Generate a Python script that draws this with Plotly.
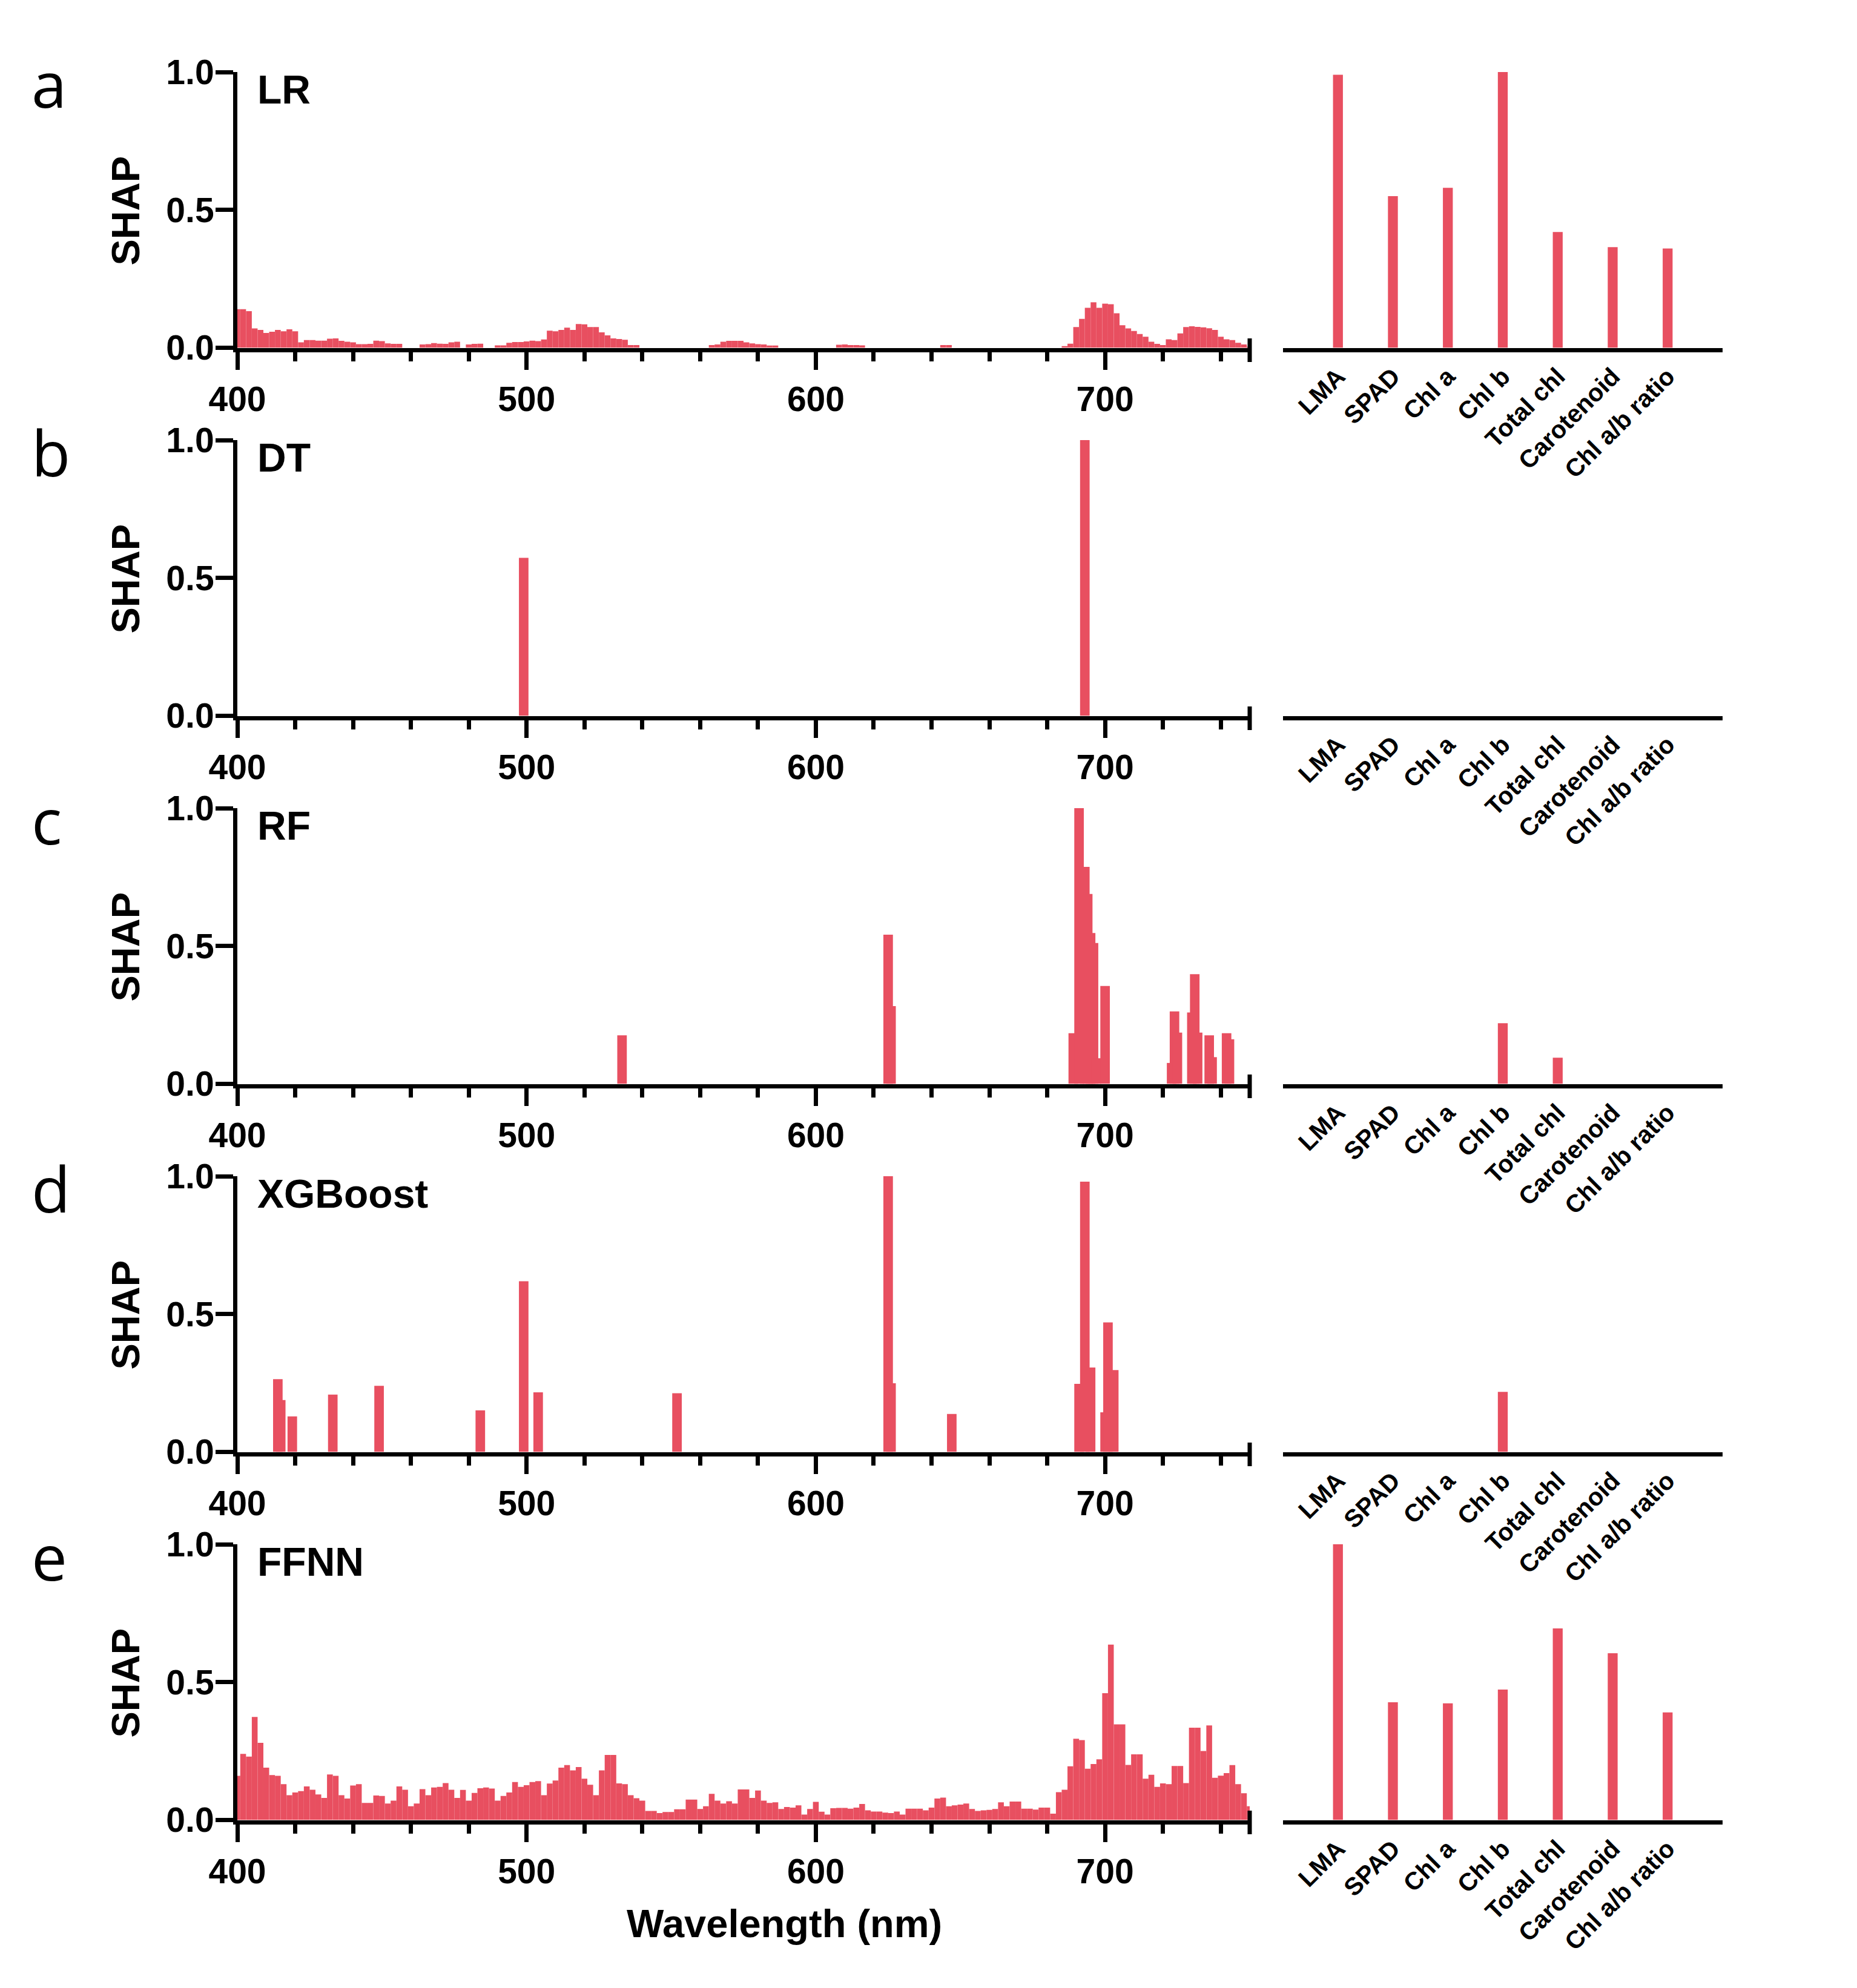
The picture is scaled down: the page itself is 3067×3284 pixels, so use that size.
import plotly.graph_objects as go
from plotly.subplots import make_subplots

# ---------------------------------------------------------------------------
# Data (normalised mean |SHAP|)
# ---------------------------------------------------------------------------
MODELS = ["LR", "DT", "RF", "XGBoost", "FFNN"]
PANEL_LETTERS = ["a", "b", "c", "d", "e"]
TRAITS = ["LMA", "SPAD", "Chl a", "Chl b", "Total chl", "Carotenoid", "Chl a/b ratio"]

# dense spectra, one value every 2 nm from 400 to 750 nm
WL_2NM = list(range(400, 751, 2))

LR_SHAP = [
    0.14, 0.14, 0.133, 0.07, 0.065, 0.054, 0.058, 0.065, 0.06, 0.067,      # 400-418
    0.06, 0.02, 0.028, 0.028, 0.026, 0.026, 0.033, 0.034, 0.025, 0.022,    # 420-438
    0.02, 0.013, 0.013, 0.014, 0.026, 0.024, 0.016, 0.014, 0.014, 0.0,     # 440-458
    0.0, 0.0, 0.012, 0.013, 0.017, 0.015, 0.014, 0.02, 0.022, 0.0,         # 460-478
    0.012, 0.014, 0.015, 0.0, 0.0, 0.009, 0.009, 0.018, 0.021, 0.021,      # 480-498
    0.023, 0.026, 0.024, 0.03, 0.062, 0.06, 0.065, 0.073, 0.065, 0.086,    # 500-518
    0.085, 0.075, 0.075, 0.056, 0.045, 0.034, 0.032, 0.029, 0.01, 0.01,    # 520-538
    0.0, 0.0, 0.0, 0.0, 0.0, 0.0, 0.0, 0.0, 0.0, 0.0,                      # 540-558
    0.0, 0.0, 0.01, 0.012, 0.022, 0.025, 0.025, 0.025, 0.02, 0.016,        # 560-578
    0.013, 0.012, 0.008, 0.008, 0.0, 0.0, 0.0, 0.0, 0.0, 0.0,              # 580-598
    0.0, 0.0, 0.0, 0.0, 0.011, 0.012, 0.01, 0.01, 0.009, 0.0,              # 600-618
    0.0, 0.0, 0.0, 0.0, 0.0, 0.0, 0.0, 0.0, 0.0, 0.0,                      # 620-638
    0.0, 0.0, 0.01, 0.01, 0.0, 0.0, 0.0, 0.0, 0.0, 0.0,                    # 640-658
    0.0, 0.0, 0.0, 0.0, 0.0, 0.0, 0.0, 0.0, 0.0, 0.0,                      # 660-678
    0.0, 0.0, 0.0, 0.006, 0.015, 0.075, 0.105, 0.145, 0.165, 0.145,        # 680-698
    0.16, 0.158, 0.125, 0.082, 0.07, 0.061, 0.05, 0.04, 0.022, 0.014,      # 700-718
    0.01, 0.031, 0.028, 0.052, 0.075, 0.078, 0.076, 0.074, 0.071, 0.065,   # 720-738
    0.04, 0.031, 0.028, 0.018, 0.012, 0.004,                               # 740-750
]

FFNN_SHAP = [
    0.16, 0.24, 0.23, 0.374, 0.28, 0.19, 0.163, 0.16, 0.13, 0.09,          # 400-418
    0.10, 0.105, 0.122, 0.11, 0.093, 0.08, 0.165, 0.16, 0.09, 0.078,       # 420-438
    0.125, 0.13, 0.062, 0.062, 0.089, 0.087, 0.06, 0.07, 0.122, 0.11,      # 440-458
    0.05, 0.06, 0.112, 0.09, 0.118, 0.12, 0.134, 0.11, 0.08, 0.109,        # 460-478
    0.07, 0.098, 0.115, 0.118, 0.114, 0.07, 0.087, 0.1, 0.138, 0.12,       # 480-498
    0.126, 0.138, 0.141, 0.09, 0.132, 0.143, 0.19, 0.199, 0.18, 0.192,     # 500-518
    0.15, 0.128, 0.09, 0.18, 0.236, 0.236, 0.133, 0.13, 0.09, 0.079,       # 520-538
    0.07, 0.033, 0.033, 0.025, 0.029, 0.029, 0.039, 0.039, 0.074, 0.074,   # 540-558
    0.04, 0.05, 0.095, 0.07, 0.06, 0.068, 0.06, 0.111, 0.111, 0.08,        # 560-578
    0.107, 0.07, 0.062, 0.064, 0.04, 0.047, 0.045, 0.053, 0.02, 0.04,      # 580-598
    0.066, 0.03, 0.02, 0.043, 0.044, 0.044, 0.041, 0.045, 0.058, 0.035,    # 600-618
    0.031, 0.031, 0.027, 0.025, 0.031, 0.02, 0.041, 0.041, 0.041, 0.035,   # 620-638
    0.045, 0.078, 0.081, 0.05, 0.053, 0.056, 0.06, 0.04, 0.033, 0.035,     # 640-658
    0.037, 0.04, 0.064, 0.05, 0.067, 0.067, 0.041, 0.041, 0.038, 0.045,    # 660-678
    0.045, 0.023, 0.101, 0.11, 0.195, 0.295, 0.29, 0.186, 0.203, 0.22,     # 680-698
    0.46, 0.636, 0.347, 0.347, 0.2, 0.238, 0.238, 0.15, 0.164, 0.12,       # 700-718
    0.133, 0.13, 0.196, 0.196, 0.134, 0.335, 0.335, 0.25, 0.343, 0.153,   # 720-738
    0.161, 0.17, 0.199, 0.13, 0.097, 0.05,                                 # 740-750
]

# sparse spectra: only the wavelengths (nm) that carry a non-zero value
DT_WL = [499, 693]
DT_SHAP = [0.573, 1.0]

RF_WL = [533, 625, 626, 689, 691, 693, 694, 695, 696, 697, 700,
         723, 724, 725, 730, 731, 732, 736, 737, 742, 743]
RF_SHAP = [0.176, 0.541, 0.282, 0.184, 1.0, 0.787, 0.689, 0.547, 0.511, 0.093, 0.355,
           0.076, 0.263, 0.186, 0.259, 0.398, 0.186, 0.176, 0.097, 0.184, 0.162]

XGB_WL = [414, 415, 419, 433, 449, 484, 499, 504, 552, 625, 626, 647,
          691, 693, 695, 700, 701, 703]
XGB_SHAP = [0.264, 0.188, 0.129, 0.208, 0.24, 0.151, 0.619, 0.216, 0.213, 1.0, 0.249, 0.138,
            0.247, 0.98, 0.306, 0.144, 0.47, 0.297]

# trait-level SHAP, one value per entry of TRAITS
LR_TRAIT = [0.99, 0.55, 0.58, 1.0, 0.42, 0.365, 0.36]
DT_TRAIT = [0, 0, 0, 0, 0, 0, 0]
RF_TRAIT = [0, 0, 0, 0.22, 0.095, 0, 0]
XGB_TRAIT = [0, 0, 0, 0.218, 0, 0, 0]
FFNN_TRAIT = [1.0, 0.427, 0.423, 0.473, 0.695, 0.605, 0.39]

SPECTRA = [
    (WL_2NM, LR_SHAP, "dense"),
    (DT_WL, DT_SHAP, "sparse"),
    (RF_WL, RF_SHAP, "sparse"),
    (XGB_WL, XGB_SHAP, "sparse"),
    (WL_2NM, FFNN_SHAP, "dense"),
]
TRAIT_VALUES = [LR_TRAIT, DT_TRAIT, RF_TRAIT, XGB_TRAIT, FFNN_TRAIT]

# ---------------------------------------------------------------------------
# Styling / geometry (pixels of the 3067 x 3284 page)
# ---------------------------------------------------------------------------
W, H = 3067, 3284
PAGE_OFFSET = 8                        # default <body> margin of the html page
RED = "#E84F60"
BAR_NM = {"dense": 2.0, "sparse": 3.3}
BOLD = "Liberation Sans"
LETTER_FONT = "Open Sans"

TOP0, ZERO0, PITCH = 119, 578, 608     # y=1 and y=0 of panel a, row pitch
LINE_W = 7
TICK_W = 7
L_X0, L_X1 = 392, 2064                 # spectrum plot area
R_X0, R_X1 = 2119, 2845                # trait plot area


def fx(p):
    return (p - PAGE_OFFSET) / W


def fy(p):
    return 1 - (p - PAGE_OFFSET) / H


fig = make_subplots(rows=5, cols=2)

for r in range(5):
    row = r + 1
    top = TOP0 + PITCH * r
    zero = ZERO0 + PITCH * r
    y_dom = [fy(zero - LINE_W / 2), fy(top)]

    wl, vals, kind = SPECTRA[r]
    fig.add_trace(
        go.Bar(x=wl, y=vals, width=BAR_NM[kind], marker=dict(color=RED, line=dict(width=0))),
        row=row, col=1,
    )
    fig.add_trace(
        go.Bar(x=TRAITS, y=TRAIT_VALUES[r], width=0.18, marker=dict(color=RED, line=dict(width=0))),
        row=row, col=2,
    )

    # spectrum axes
    fig.update_xaxes(
        domain=[fx(L_X0), fx(L_X1)], range=[400, 750],
        showline=True, linewidth=LINE_W, linecolor="black",
        ticks="outside", tick0=400, dtick=100, ticklen=29, tickwidth=TICK_W, tickcolor="black",
        minor=dict(tick0=400, dtick=20, ticks="outside", ticklen=15, tickwidth=TICK_W,
                   tickcolor="black", showgrid=False),
        tickfont=dict(family=BOLD, size=57, color="black", weight="bold"),
        showgrid=False, zeroline=False,
        row=row, col=1,
    )
    fig.update_yaxes(
        domain=y_dom, range=[0, 1],
        showline=True, linewidth=LINE_W, linecolor="black",
        tickvals=[0, 0.5, 1], ticktext=["0.0", "0.5", "1.0"],
        ticks="outside", ticklen=29, tickwidth=TICK_W, tickcolor="black",
        ticklabelstandoff=-9,
        tickfont=dict(family=BOLD, size=57, color="black", weight="bold"),
        showgrid=False, zeroline=False,
        row=row, col=1,
    )

    # trait axes
    fig.update_xaxes(
        domain=[fx(R_X0), fx(R_X1)], type="category",
        categoryorder="array", categoryarray=TRAITS, range=[-1, 7],
        showline=True, linewidth=LINE_W, linecolor="black",
        ticks="", tickangle=-45,
        tickfont=dict(family=BOLD, size=41, color="black", weight="bold"),
        showgrid=False, zeroline=False,
        row=row, col=2,
    )
    fig.update_yaxes(domain=y_dom, range=[0, 1], visible=False, row=row, col=2)

    # end mark of the wavelength axis at 750 nm
    fig.add_shape(
        type="line", xref="paper", yref="paper",
        x0=fx(L_X1), x1=fx(L_X1), y0=fy(zero - 19), y1=fy(zero + 20),
        line=dict(color="black", width=TICK_W),
    )

    # panel letter, model name, y title
    fig.add_annotation(
        x=fx(50), y=fy(top + 19), xref="paper", yref="paper",
        xanchor="left", yanchor="middle", showarrow=False,
        text=PANEL_LETTERS[r], font=dict(family=LETTER_FONT, size=105, color="black"),
    )
    fig.add_annotation(
        x=fx(423), y=fy(top + 29), xref="paper", yref="paper",
        xanchor="left", yanchor="middle", showarrow=False,
        text=MODELS[r], font=dict(family=BOLD, size=66, color="black", weight="bold"),
    )
    fig.add_annotation(
        x=fx(207), y=fy((top + zero) / 2), xref="paper", yref="paper",
        xanchor="center", yanchor="middle", showarrow=False, textangle=-90,
        text="SHAP", font=dict(family=BOLD, size=65, color="black", weight="bold"),
    )

fig.add_annotation(
    x=fx(1295), y=fy(3177), xref="paper", yref="paper",
    xanchor="center", yanchor="middle", showarrow=False,
    text="Wavelength (nm)", font=dict(family=BOLD, size=65, color="black", weight="bold"),
)

fig.update_layout(
    width=W, height=H,
    margin=dict(l=0, r=0, t=0, b=0),
    template="none",
    paper_bgcolor="white", plot_bgcolor="white",
    showlegend=False, barmode="overlay",
)

fig.write_html("out.html")
